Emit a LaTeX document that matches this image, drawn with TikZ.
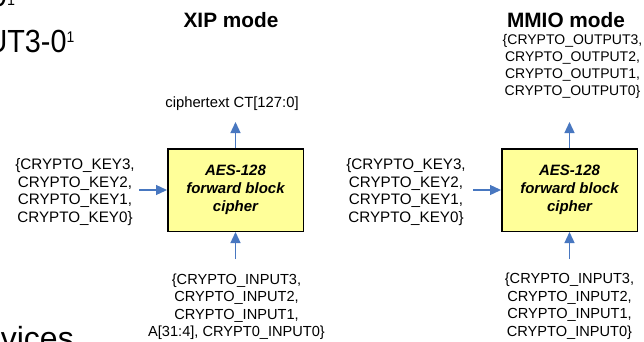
\documentclass[tikz,border=0pt]{standalone}
\usepackage{fontspec}
\setmainfont{Liberation Sans}
\usetikzlibrary{arrows.meta}
\definecolor{arrblue}{HTML}{4877C0}
\definecolor{boxyellow}{HTML}{FFFF99}
\begin{document}
\begin{tikzpicture}[x=1pt,y=-1pt,
  cipherbox/.style={draw=black, line width=1.5pt, fill=boxyellow,
    minimum width=135.5pt, minimum height=82.5pt, inner sep=0pt, align=center,
    font=\fontsize{15}{18}\selectfont\bfseries\itshape},
  arr/.style={draw=arrblue, line width=1.3pt, -{Triangle[length=11pt,width=10pt]}},
  keytxt/.style={inner sep=0pt, align=center, font=\fontsize{15.2}{17.8}\selectfont},
  intxt/.style={inner sep=0pt, align=center, font=\fontsize{14.6}{17.5}\selectfont},
  outtxt/.style={inner sep=0pt, align=center, font=\fontsize{14}{16.8}\selectfont},
  titletxt/.style={inner sep=0pt, font=\fontsize{20.8}{24}\selectfont\bfseries},
  bigtxt/.style={inner sep=0pt, font=\fontsize{32}{36}\selectfont}]
\useasboundingbox (0,0) rectangle (644,342);
\clip (0,0) rectangle (644,342);
\fill[white] (0,0) rectangle (644,342);

% partial slide texts
\node[bigtxt, anchor=base west] (tl1) at (-9.5,7) {\scalebox{0.92}[1]{0\raisebox{1pt}{\fontsize{15.5}{15.5}\selectfont 1}}};
\node[bigtxt, anchor=base east] (tl2) at (74.5,53) {\scalebox{0.9}[1]{UT3-0\raisebox{10pt}{\fontsize{15.5}{15.5}\selectfont 1}}};
\node[bigtxt, anchor=base east] (bl) at (74,349) {vices};

% titles
\node[titletxt] (t1) at (231,20) {XIP mode};
\node[titletxt] (t2) at (566,20.5) {MMIO mode};

% boxes
\node[cipherbox] (box1) at (235.5,190) {AES-128\\forward block\\cipher};
\node[cipherbox] (box2) at (569.5,190) {AES-128\\forward block\\cipher};

% XIP texts
\node[inner sep=0pt, font=\fontsize{14.8}{17}\selectfont] (ct) at (232,103.5) {ciphertext CT[127:0]};
\node[keytxt] (key1) at (75,192) {\{CRYPTO\_KEY3,\\CRYPTO\_KEY2,\\CRYPTO\_KEY1,\\CRYPTO\_KEY0\}};
\node[intxt] (in1) at (236.5,306.8) {\{CRYPTO\_INPUT3,\\CRYPTO\_INPUT2,\\CRYPTO\_INPUT1,\\A[31:4], CRYPT0\_INPUT0\}};

% MMIO texts
\node[outtxt] (out2) at (572.5,66.5) {\{CRYPTO\_OUTPUT3,\\CRYPTO\_OUTPUT2,\\CRYPTO\_OUTPUT1,\\CRYPTO\_OUTPUT0\}};
\node[keytxt] (key2) at (406,192) {\{CRYPTO\_KEY3,\\CRYPTO\_KEY2,\\CRYPTO\_KEY1,\\CRYPTO\_KEY0\}};
\node[intxt] (in2) at (569.5,306) {\{CRYPTO\_INPUT3,\\CRYPTO\_INPUT2,\\CRYPTO\_INPUT1,\\CRYPTO\_INPUT0\}};

% arrow free ends
\coordinate (up1) at (235.5,122);
\coordinate (up2) at (569.5,122);
\coordinate (k1) at (139,190);
\coordinate (k2) at (473,190);
\coordinate (b1) at (235.5,259);
\coordinate (b2) at (569.5,259);

% arrows
\draw[arr] (box1.north) -- (up1);
\draw[arr] (box2.north) -- (up2);
\draw[arr] (k1) -- (box1.west);
\draw[arr] (k2) -- (box2.west);
\draw[arr] (b1) -- (box1.south);
\draw[arr] (b2) -- (box2.south);
\end{tikzpicture}
\end{document}
